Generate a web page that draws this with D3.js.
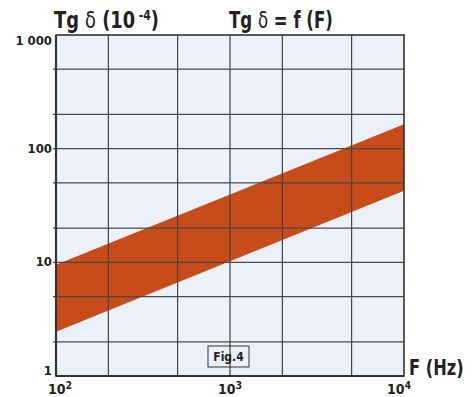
<!DOCTYPE html>
<html>
<head>
<meta charset="utf-8" />
<title>Tg delta = f(F)</title>
<style>
  body { margin: 0; background: #fff; }
  text { font-family: "DejaVu Sans Condensed", "Liberation Sans Narrow", sans-serif; font-weight: bold; fill: #222; }
</style>
</head>
<body>
<div id="chart"></div>
<script src="https://cdn.jsdelivr.net/npm/d3@7"></script>
<script>
// band: frequency (Hz) vs tg delta (1e-4)
var freq = [100, 10000];
var upper = [9.5, 164];
var lower = [2.45, 42.6];

var xGrid = [200, 500, 1000, 2000, 5000];
var yGrid = [2, 5, 10, 20, 50, 100, 200, 500];
var yTicks = [1, 10, 100, 1000];
var yTickLabels = ["1", "10", "100", "1 000"];
var xTicks = [100, 1000, 10000];
var xTickExp = ["2", "3", "4"];

var W = 476, H = 397;
var svg = d3.select("#chart").append("svg").attr("width", W).attr("height", H);

var x = d3.scaleLog().domain([100, 10000]).range([56, 404]);
var y = d3.scaleLog().domain([1, 1000]).range([376, 35]);

// plot background
svg.append("rect")
  .attr("x", x(100)).attr("y", y(1000))
  .attr("width", x(10000) - x(100)).attr("height", y(1) - y(1000))
  .attr("fill", "#ecf0f8");

// the band
var band = freq.map(function(f, i) { return {f: f, lo: lower[i], hi: upper[i]}; });
var area = d3.area()
  .x(function(d) { return x(d.f); })
  .y0(function(d) { return y(d.lo); })
  .y1(function(d) { return y(d.hi); });
svg.append("path").datum(band).attr("d", area).attr("fill", "#c84b1a");

// grid
svg.selectAll(".vg").data(xGrid).enter().append("line")
  .attr("x1", function(d) { return x(d); }).attr("x2", function(d) { return x(d); })
  .attr("y1", y(1000)).attr("y2", y(1))
  .attr("stroke", "#444").attr("stroke-width", 1.2);
svg.selectAll(".hg").data(yGrid).enter().append("line")
  .attr("x1", x(100) - 3).attr("x2", x(10000))
  .attr("y1", function(d) { return y(d); }).attr("y2", function(d) { return y(d); })
  .attr("stroke", "#4a4a4a").attr("stroke-width", 1.2);

// frame
svg.append("rect")
  .attr("x", x(100)).attr("y", y(1000))
  .attr("width", x(10000) - x(100)).attr("height", y(1) - y(1000))
  .attr("fill", "none").attr("stroke", "#333").attr("stroke-width", 1.6);
svg.append("line").attr("x1", x(100)).attr("x2", x(100)).attr("y1", y(1000)).attr("y2", y(1))
  .attr("stroke", "#333").attr("stroke-width", 2.2);
svg.append("line").attr("x1", x(100)).attr("x2", x(10000)).attr("y1", y(1)).attr("y2", y(1))
  .attr("stroke", "#333").attr("stroke-width", 2.2);

// y tick labels
var yDy = {1: -1, 10: 4, 100: 4, 1000: 10};
svg.selectAll(".yl").data(yTicks).enter().append("text")
  .attr("x", x(100) - 4)
  .attr("y", function(d) { return y(d) + yDy[d]; })
  .attr("text-anchor", "end")
  .attr("font-size", 13)
  .text(function(d, i) { return yTickLabels[i]; });

// x tick labels 10^n (kept inside the picture at both ends)
var xShift = [4, 0, -5];
var xl = svg.selectAll(".xl").data(xTicks).enter().append("text")
  .attr("x", function(d, i) { return x(d) + xShift[i]; })
  .attr("y", 394)
  .attr("text-anchor", "middle")
  .attr("font-size", 14);
xl.append("tspan").text("10");
xl.append("tspan").attr("dy", -5).attr("font-size", 10).text(function(d, i) { return xTickExp[i]; });

// titles (squeezed horizontally to match the condensed face)
var t1 = svg.append("text").attr("transform", "translate(54,28) scale(0.86,1)").attr("font-size", 23);
t1.append("tspan").text("Tg ");
t1.append("tspan").attr("font-weight", "normal").text("\u03b4");
t1.append("tspan").text(" (10");
t1.append("tspan").attr("dy", -8).attr("font-size", 14).text(" -4");
t1.append("tspan").attr("dy", 8).text(")");

var t2 = svg.append("text").attr("transform", "translate(229,28) scale(0.8,1)").attr("font-size", 23);
t2.append("tspan").text("Tg ");
t2.append("tspan").attr("font-weight", "normal").text("\u03b4");
t2.append("tspan").text(" = f (F)");

svg.append("text").attr("transform", "translate(409,375) scale(0.86,1)").attr("font-size", 21).text("F (Hz)");

// figure tag
svg.append("rect").attr("x", 208).attr("y", 346).attr("width", 41).attr("height", 21)
  .attr("fill", "none").attr("stroke", "#333").attr("stroke-width", 1);
svg.append("text").attr("x", 228.5).attr("y", 361).attr("text-anchor", "middle")
  .attr("font-size", 12).text("Fig.4");
</script>
</body>
</html>
